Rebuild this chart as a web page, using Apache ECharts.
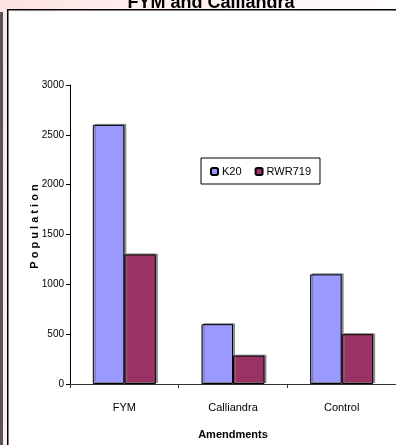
<!DOCTYPE html>
<html>
<head>
<meta charset="utf-8">
<script src="https://cdn.jsdelivr.net/npm/echarts@6/dist/echarts.min.js"></script>
<style>
html,body{margin:0;padding:0;background:#fff;}
#c{width:396px;height:445px;}
</style>
</head>
<body>
<div id="c"></div>
<script>
var titleText = 'FYM and Calliandra';
var categories = ['FYM', 'Calliandra', 'Control'];
var seriesNames = ['K20', 'RWR719'];
var k20 = [2600, 600, 1100];
var rwr719 = [1300, 285, 500];
var yTicks = {min: 0, max: 3000, interval: 500};
var xName = 'Amendments';
var yName = 'P o p u l a t i o n';

var narrow = '"Liberation Sans Narrow", "Arial Narrow", "Liberation Sans", Arial, sans-serif';
var chart = echarts.init(document.getElementById('c'), null, {renderer: 'canvas'});
var barStyle = function (color) {
  return {
    color: color,
    borderColor: '#000',
    borderWidth: 1,
    shadowColor: 'rgba(120,120,120,0.8)',
    shadowOffsetX: 2,
    shadowOffsetY: -1,
    shadowBlur: 0
  };
};
chart.setOption({
  animation: false,
  backgroundColor: {
    type: 'linear', x: 0, y: 0, x2: 1, y2: 0.3,
    colorStops: [{offset: 0, color: '#fde3e3'}, {offset: 0.6, color: '#fff5f5'}, {offset: 1, color: '#ffffff'}]
  },
  graphic: [
    {type: 'rect', left: 0, top: 12, shape: {width: 3, height: 440}, style: {fill: '#555'}, z: 0},
    {type: 'rect', left: 7, top: 9, shape: {width: 400, height: 450}, style: {fill: '#fff', stroke: '#000', lineWidth: 1.5}, z: 0}
  ],
  title: {
    text: titleText,
    left: 206, top: -11, textAlign: 'center',
    textStyle: {fontFamily: 'Liberation Sans, Arial, sans-serif', fontWeight: 'bold', fontSize: 18, color: '#000'}
  },
  legend: {
    data: seriesNames,
    left: 201, top: 158,
    padding: [8, 9, 7, 9],
    borderColor: '#000', borderWidth: 1,
    backgroundColor: '#fff',
    itemWidth: 7, itemHeight: 7, itemGap: 13,
    textStyle: {fontFamily: narrow, fontSize: 11, color: '#000', padding: [0, 0, 0, -1]}
  },
  grid: {left: 70, top: 85, width: 328, height: 300, containLabel: false},
  xAxis: {
    type: 'category',
    data: categories,
    name: xName,
    nameLocation: 'middle',
    nameGap: 45,
    nameMoveOverlap: false,
    nameTextStyle: {fontFamily: narrow, fontWeight: 'bold', fontSize: 11, color: '#000'},
    axisLine: {lineStyle: {color: '#333', width: 1}},
    axisTick: {show: true, length: 4, lineStyle: {color: '#333'}},
    axisLabel: {fontFamily: narrow, fontSize: 11, color: '#000', margin: 18},
    splitLine: {show: false}
  },
  yAxis: {
    type: 'value',
    min: yTicks.min, max: yTicks.max, interval: yTicks.interval,
    name: yName,
    nameLocation: 'middle',
    nameGap: 30,
    nameMoveOverlap: false,
    nameRotate: 90,
    nameTextStyle: {fontFamily: narrow, fontWeight: 'bold', fontSize: 11, color: '#000', padding: [0, 0, 0, 16]},
    axisLine: {show: true, lineStyle: {color: '#000', width: 1}},
    axisTick: {show: true, length: 4, lineStyle: {color: '#000'}},
    axisLabel: {fontFamily: narrow, fontSize: 10, color: '#000', margin: 6, formatter: function (v) { return String(v); }},
    splitLine: {show: false}
  },
  series: [
    {name: seriesNames[0], type: 'bar', data: k20, barGap: '0%', barCategoryGap: '42%', itemStyle: barStyle('#9999ff')},
    {name: seriesNames[1], type: 'bar', data: rwr719, barGap: '0%', barCategoryGap: '42%', itemStyle: barStyle('#993366')}
  ]
});
</script>
</body>
</html>
